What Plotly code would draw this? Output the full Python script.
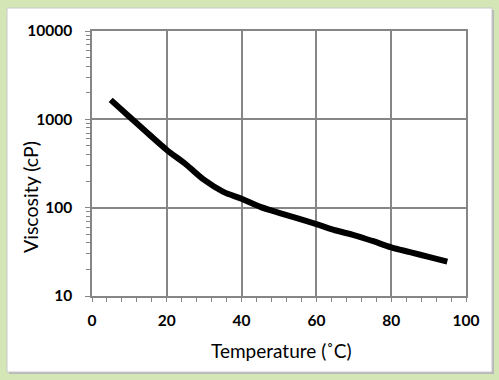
import plotly.graph_objects as go

temperature = [5, 10, 15, 20, 25, 30, 35, 40, 45, 50, 55, 60, 65, 70, 75, 80, 85, 90, 95]
viscosity = [1660, 1070, 690, 450, 312, 206, 152, 126, 102, 87.5, 75.5, 65, 55.5, 49, 42, 35.5, 31.4, 27.7, 24.5]
y_tick_values = [10, 100, 1000, 10000]
y_tick_labels = ["10", "100", "1000", "10000"]
x_title = "Temperature (˚C)"
y_title = "Viscosity (cP)"

W, H = 499, 380
L, R, T, B = 92, 33, 31, 84
pw, ph = W - L - R, H - T - B

def px(x):
    return (x - L) / pw

def py(y):
    return 1 - (y - T) / ph

fig = go.Figure()
fig.add_trace(go.Scatter(
    x=temperature, y=viscosity, mode="lines",
    line=dict(color="black", width=6, shape="spline", smoothing=1.0),
    showlegend=False, hoverinfo="skip",
))

grid = "#868686"
fig.update_layout(
    width=W, height=H,
    margin=dict(l=L, r=R, t=T, b=B, autoexpand=False),
    paper_bgcolor="#d4e6b6",
    plot_bgcolor="white",
    font=dict(family="Lato, Open Sans, sans-serif", color="black"),
    xaxis=dict(
        range=[0, 100], dtick=20, tick0=0,
        showgrid=True, gridcolor=grid, gridwidth=1.5,
        showline=True, linecolor=grid, linewidth=1.5, mirror=True,
        ticks="outside", ticklen=4, tickcolor=grid,
        minor=dict(dtick=4, ticks="outside", ticklen=4, tickcolor=grid, showgrid=False),
        tickfont=dict(size=15.5, family="Lato, sans-serif", weight="bold"),
        ticklabelstandoff=6,
        zeroline=False,
    ),
    yaxis=dict(
        type="log", range=[1, 4],
        tickvals=y_tick_values, ticktext=y_tick_labels,
        showgrid=True, gridcolor=grid, gridwidth=1.5,
        showline=True, linecolor=grid, linewidth=1.5, mirror=True,
        ticks="outside", ticklen=5, tickcolor=grid,
        minor=dict(dtick="D1", ticks="outside", ticklen=4, tickcolor=grid, showgrid=False),
        tickfont=dict(size=15.5, family="Lato, sans-serif", weight="bold"),
        ticklabelstandoff=10,
        zeroline=False,
    ),
    annotations=[
        dict(text=x_title, xref="paper", yref="paper", x=px(281), y=py(350),
             xanchor="center", yanchor="middle", showarrow=False,
             font=dict(size=19, family="Lato, sans-serif", color="black")),
        dict(text=y_title, xref="paper", yref="paper", x=px(30), y=py(197),
             xanchor="center", yanchor="middle", showarrow=False, textangle=-90,
             font=dict(size=19.5, family="Lato, sans-serif", color="black")),
    ],
    shapes=[
        dict(type="rect", xref="paper", yref="paper", layer="below",
             x0=px(9), x1=px(494), y0=py(10), y1=py(374),
             fillcolor="#b8b8b8", line=dict(width=0)),
        dict(type="rect", xref="paper", yref="paper", layer="below",
             x0=px(7), x1=px(492), y0=py(8), y1=py(372),
             fillcolor="white", line=dict(color="#c8c8c8", width=1)),
    ],
)

fig.write_html("out.html", config={"displayModeBar": False},
               post_script="document.body.style.margin='0';")
